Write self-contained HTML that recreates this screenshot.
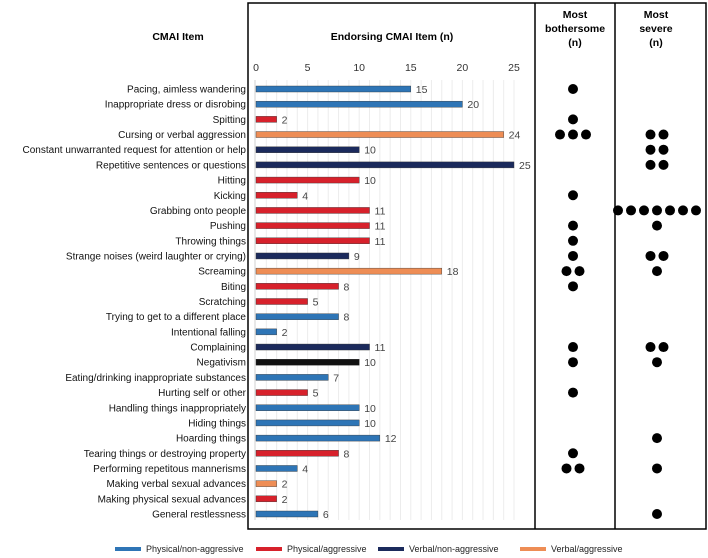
<!DOCTYPE html>
<html><head><meta charset="utf-8"><style>
body{margin:0;background:#fff;width:708px;height:558px;overflow:hidden}
svg{display:block;font-family:"Liberation Sans",Arial,sans-serif}
</style></head><body>
<svg id="chart" width="708" height="558" viewBox="0 0 708 558" xmlns="http://www.w3.org/2000/svg">
<rect x="248" y="3" width="458" height="526" fill="none" stroke="#000" stroke-width="1.5"/>
<line x1="535" y1="3" x2="535" y2="529" stroke="#000" stroke-width="1.5"/>
<line x1="615" y1="3" x2="615" y2="529" stroke="#000" stroke-width="1.5"/>
<text x="178" y="40" font-size="10.5" font-weight="bold" text-anchor="middle">CMAI Item</text>
<text x="392" y="40" font-size="10.5" font-weight="bold" text-anchor="middle">Endorsing CMAI Item (n)</text>
<text x="575" y="18" font-size="10.5" font-weight="bold" text-anchor="middle"><tspan x="575">Most</tspan><tspan x="575" dy="14">bothersome</tspan><tspan x="575" dy="14">(n)</tspan></text>
<text x="656" y="18" font-size="10.5" font-weight="bold" text-anchor="middle"><tspan x="656">Most</tspan><tspan x="656" dy="14">severe</tspan><tspan x="656" dy="14">(n)</tspan></text>
<g id="grid"></g><g id="bars"></g><g id="dots"></g><g id="legend"></g>
</svg>
<script>
const categories=["Pacing, aimless wandering","Inappropriate dress or disrobing","Spitting","Cursing or verbal aggression","Constant unwarranted request for attention or help","Repetitive sentences or questions","Hitting","Kicking","Grabbing onto people","Pushing","Throwing things","Strange noises (weird laughter or crying)","Screaming","Biting","Scratching","Trying to get to a different place","Intentional falling","Complaining","Negativism","Eating/drinking inappropriate substances","Hurting self or other","Handling things inappropriately","Hiding things","Hoarding things","Tearing things or destroying property","Performing repetitous mannerisms","Making verbal sexual advances","Making physical sexual advances","General restlessness"];
const endorsing=[15,20,2,24,10,25,10,4,11,11,11,9,18,8,5,8,2,11,10,7,5,10,10,12,8,4,2,2,6];
const groups=["pn","pn","pa","va","vn","vn","pa","pa","pa","pa","pa","vn","va","pa","pa","pn","pn","vn","bk","pn","pa","pn","pn","pn","pa","pn","va","pa","pn"];
const bothersome=[1,0,1,3,0,0,0,1,0,1,1,1,2,1,0,0,0,1,1,0,1,0,0,0,1,2,0,0,0];
const severe=[0,0,0,2,2,2,0,0,7,1,0,2,1,0,0,0,0,2,1,0,0,0,0,1,0,1,0,0,1];
const xTicks=[0,5,10,15,20,25];
const legendLabels=["Physical/non-aggressive","Physical/aggressive","Verbal/non-aggressive","Verbal/aggressive"];
const legendKeys=["pn","pa","vn","va"];
const colors={pn:"#2e75b6",pa:"#d7212b",vn:"#1b2a5c",va:"#ee8d55",bk:"#111"};
const NS="http://www.w3.org/2000/svg";
const x0=256,xs=(514-256)/25,y0=89;
const rowStep=(514-89)/(categories.length-1);
const X=v=>x0+v*xs, Y=i=>y0+i*rowStep;
function mk(t,a,p){const e=document.createElementNS(NS,t);for(const k in a)e.setAttribute(k,a[k]);p.appendChild(e);return e;}
const grid=document.getElementById('grid'),bars=document.getElementById('bars'),dots=document.getElementById('dots'),leg=document.getElementById('legend');
for(let v=1;v<=25;v++){const l=mk('line',{x1:X(v),x2:X(v),y1:80,y2:520,stroke:"#ececec","stroke-width":1},grid);

}
const ax=mk('line',{x1:x0-1,x2:x0-1,y1:80,y2:520,stroke:"#d0d0d0","stroke-width":1},grid);


xTicks.forEach(v=>{const t=mk('text',{x:X(v),y:71,"font-size":10.5,"text-anchor":"middle",fill:"#333"},grid);t.textContent=v;

});
categories.forEach((c,i)=>{const y=Y(i);
const t=mk('text',{x:246,y:y+3.5,"font-size":10,"text-anchor":"end",fill:"#111"},bars);t.textContent=c;


const r=mk('rect',{x:x0,y:y-3,width:X(endorsing[i])-x0,height:6,fill:colors[groups[i]],stroke:"#333","stroke-width":0.4},bars);


const v=mk('text',{x:X(endorsing[i])+5,y:y+4,"font-size":10.5,fill:"#444"},bars);v.textContent=endorsing[i];


const drawDots=(n,cx)=>{for(let k=0;k<n;k++){const d=mk('circle',{cx:cx+(k-(n-1)/2)*13,cy:y,r:5,fill:"#000"},dots);

}};
drawDots(bothersome[i],573);drawDots(severe[i],657);});
const lx=[115,256,378,520];
legendLabels.forEach((l,i)=>{const r=mk('rect',{x:lx[i],y:547,width:26,height:4,fill:colors[legendKeys[i]]},leg);


const t=mk('text',{x:lx[i]+31,y:552,"font-size":9,fill:"#222"},leg);t.textContent=l;

});
</script>
</body></html>
